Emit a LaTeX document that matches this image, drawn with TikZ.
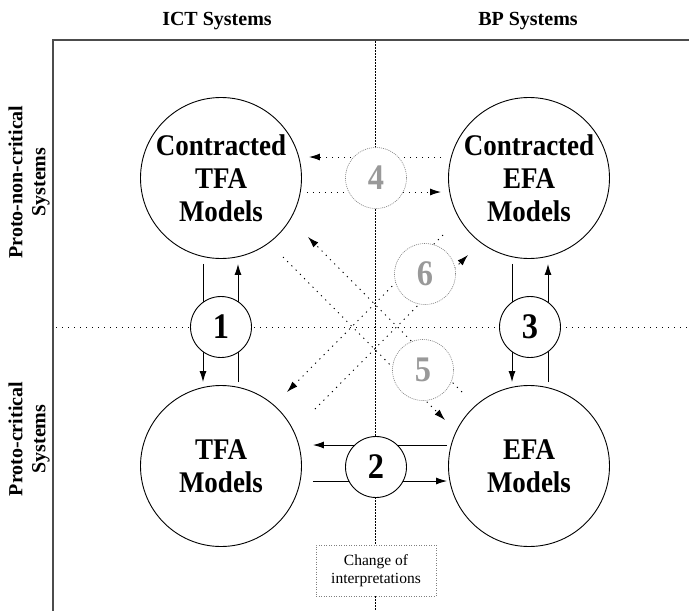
\documentclass[tikz,border=0pt]{standalone}
\usepackage{fontspec}
\setmainfont{Liberation Serif}
\newfontfamily\narrowserif{Liberation Serif}[FakeStretch=0.9]
\usetikzlibrary{arrows.meta,positioning}

\tikzset{
  model/.style={circle, draw, line width=0.9pt, minimum size=161pt, inner sep=0pt,
    align=center, font=\narrowserif\bfseries\fontsize{30}{33}\selectfont},
  numnode/.style={circle, draw, fill=white, line width=0.9pt, minimum size=61pt,
    inner sep=0pt, font=\narrowserif\bfseries\fontsize{36}{36}\selectfont},
  ghostnum/.style={numnode, draw=gray, line width=0.6pt, dash pattern=on 1pt off 1pt,
    text=black!40},
  arr/.style={-{Latex[length=11pt,width=7pt]}, line width=0.9pt},
  darr/.style={arr, dash pattern=on 1.2pt off 4.8pt},
  heading/.style={font=\bfseries\fontsize{20}{23}\selectfont, align=center},
}

\begin{document}
\begin{tikzpicture}[x=1pt,y=-1pt]
  \useasboundingbox (0,0) rectangle (689,611);

  % headings
  \node[heading, anchor=base] (ict) at (217,25) {ICT Systems};
  \node[heading, anchor=base] (bp) at (528,25) {BP Systems};
  \node[heading, rotate=90] (noncrit) at (29,182) {Proto-non-critical\\Systems};
  \node[heading, rotate=90] (crit) at (29,439) {Proto-critical\\Systems};

  % frame and axes
  \draw[black!70, line width=2pt] (689,40) -- (53,40) -- (53,611);
  \draw[line width=0.8pt, dash pattern=on 1pt off 5pt] (56,327) -- (689,327);
  \draw[line width=1pt, dash pattern=on 1.5pt off 1.5pt] (375,41) -- (375,611);

  % models
  \node[model] (ctfa) at (221,178) {Contracted\\TFA\\Models};
  \node[model] (cefa) at (529,178) {Contracted\\EFA\\Models};
  \node[model] (tfa) at (221,466) {TFA\\Models};
  \node[model] (efa) at (529,466) {EFA\\Models};

  % 1 and 3
  \draw[arr] ([shift={(-18pt,-5pt)}]ctfa.south) -- ([shift={(-18pt,3pt)}]tfa.north);
  \draw[arr] ([shift={(17pt,3pt)}]tfa.north) -- ([shift={(17pt,-5pt)}]ctfa.south);
  \draw[arr] ([shift={(-17pt,-5pt)}]cefa.south) -- ([shift={(-17pt,3pt)}]efa.north);
  \draw[arr] ([shift={(19pt,3pt)}]efa.north) -- ([shift={(19pt,-5pt)}]cefa.south);

  % 2
  \draw[arr] ([shift={(-1pt,21pt)}]efa.west) -- ([shift={(11pt,21pt)}]tfa.east);
  \draw[arr] ([shift={(11pt,-15pt)}]tfa.east) -- ([shift={(-1pt,-15pt)}]efa.west);

  % 4
  \draw[darr] ([shift={(-7pt,21pt)}]cefa.west) -- ([shift={(7pt,21pt)}]ctfa.east);
  \draw[darr] ([shift={(5pt,-14pt)}]ctfa.east) -- ([shift={(-7pt,-14pt)}]cefa.west);

  % 5 and 6
  \coordinate (d1a) at (462,392);
  \coordinate (d1b) at (308,237);
  \coordinate (d2a) at (283,257);
  \coordinate (d2b) at (445,420);
  \coordinate (d3a) at (315,409);
  \coordinate (d3b) at (468,255);
  \coordinate (d4a) at (443,235);
  \coordinate (d4b) at (287,392);
  \draw[darr] (d1a) -- (d1b);
  \draw[darr] (d2a) -- (d2b);
  \draw[darr] (d3a) -- (d3b);
  \draw[darr] (d4a) -- (d4b);

  % numbered circles
  \node[numnode] (n1) at (221,327) {1};
  \node[numnode] (n2) at (376,467) {2};
  \node[numnode] (n3) at (530,327) {3};
  \node[ghostnum] (n4) at (376,178) {4};
  \node[ghostnum] (n5) at (423,370) {5};
  \node[ghostnum] (n6) at (425,274) {6};

  \node[draw=gray, fill=white, line width=0.6pt, dash pattern=on 1pt off 1.5pt,
    minimum width=120pt, minimum height=51pt, align=center,
    font=\fontsize{15.5}{18}\selectfont] (change) at (376,570.5) {Change of\\interpretations};
\end{tikzpicture}
\end{document}
